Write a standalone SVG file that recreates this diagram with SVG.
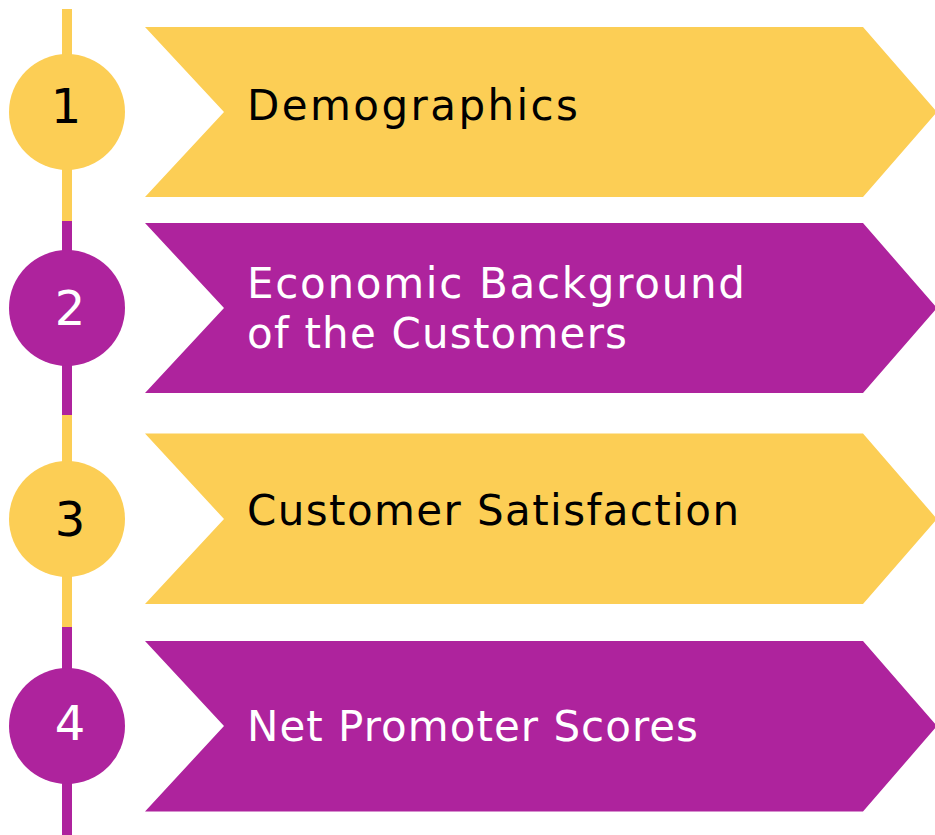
<svg xmlns="http://www.w3.org/2000/svg" width="935" height="835" viewBox="0 0 935 835">
  <style>
    .y { fill: #FCCE55; }
    .p { fill: #AE239D; }
    .ys { stroke: #FCCE55; stroke-width: 10; }
    .ps { stroke: #AE239D; stroke-width: 10; }
    .lbl { font-family: "DejaVu Sans", "Liberation Sans", sans-serif; font-size: 42px; }
    .num { font-family: "DejaVu Sans", "Liberation Sans", sans-serif; font-size: 48px; text-anchor: middle; }
    .dark { fill: #000000; }
    .light { fill: #FFFFFF; }
  </style>
  <rect width="935" height="835" fill="#FFFFFF"/>
  <g id="connectors">
    <line class="ys" x1="67" y1="9" x2="67" y2="221"/>
    <line class="ps" x1="67" y1="221" x2="67" y2="415"/>
    <line class="ys" x1="67" y1="415" x2="67" y2="627"/>
    <line class="ps" x1="67" y1="627" x2="67" y2="835"/>
  </g>
  <g id="step1">
    <polygon class="y" points="145,27 863,27 937,112 863,197 145,197 224,112"/>
    <circle class="y" cx="67" cy="112" r="58"/>
    <text class="num dark" x="66" y="123">1</text>
    <text class="lbl dark" x="247" y="120" textLength="331" lengthAdjust="spacing">Demographics</text>
  </g>
  <g id="step2">
    <polygon class="p" points="145,223 863,223 937,308 863,393 145,393 224,308"/>
    <circle class="p" cx="67" cy="308" r="58"/>
    <text class="num light" x="70" y="325">2</text>
    <text class="lbl light" x="247" y="298" textLength="498" lengthAdjust="spacing">Economic Background</text>
    <text class="lbl light" x="247" y="348" textLength="380" lengthAdjust="spacing">of the Customers</text>
  </g>
  <g id="step3">
    <polygon class="y" points="145,433.5 863,433.5 937,519 863,604 145,604 224,519"/>
    <circle class="y" cx="67" cy="519" r="58"/>
    <text class="num dark" x="70" y="536">3</text>
    <text class="lbl dark" x="247" y="525" textLength="492" lengthAdjust="spacing">Customer Satisfaction</text>
  </g>
  <g id="step4">
    <polygon class="p" points="145,641 863,641 937,726 863,811.5 145,811.5 224,726"/>
    <circle class="p" cx="67" cy="726" r="58"/>
    <text class="num light" x="70" y="740">4</text>
    <text class="lbl light" x="247" y="741" textLength="451" lengthAdjust="spacing">Net Promoter Scores</text>
  </g>
</svg>
